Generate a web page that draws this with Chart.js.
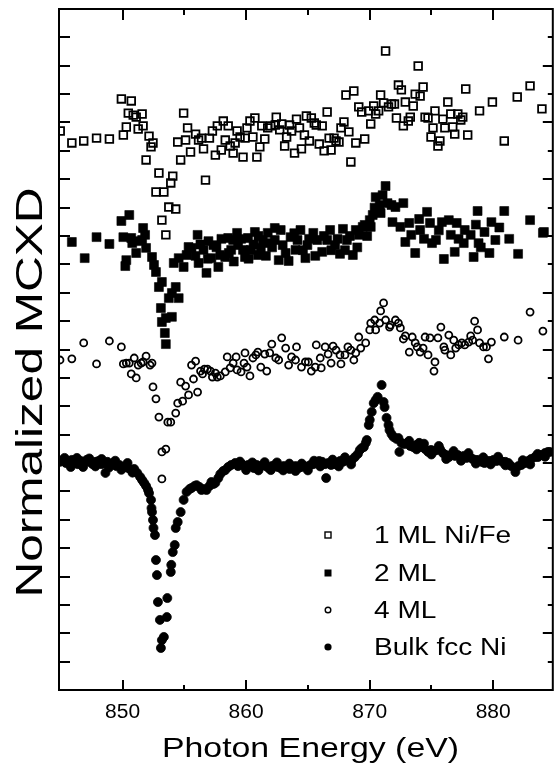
<!DOCTYPE html>
<html>
<head>
<meta charset="utf-8">
<script src="https://cdn.jsdelivr.net/npm/chart.js@4.4.0/dist/chart.umd.min.js"></script>
<style>
  html, body { margin: 0; padding: 0; background: #fff; overflow: hidden; }
  canvas { display: block; }
</style>
</head>
<body>
<canvas id="mcxd" width="560" height="765"></canvas>
<script>
// [photon energy (eV), normalized MCXD (offset, arb. units)]
const ml1 = [
  [844.95,19.70],[845.89,19.28],[846.85,19.35],[847.89,19.45],[848.93,19.42],[849.90,20.83],[850.70,20.76],[850.06,19.56],
  [850.30,19.84],[850.46,20.33],[850.86,20.26],[851.10,20.19],[851.58,20.30],[851.66,19.88],[851.26,19.77],[852.14,19.52],
  [852.46,19.28],[852.30,19.14],[851.90,18.68],[852.94,18.22],[852.70,17.55],[853.34,17.55],[854.06,18.11],[853.90,17.87],
  [853.74,17.02],[854.30,16.95],[853.18,16.56],[853.50,16.04],[854.70,18.68],[854.94,20.33],[854.46,19.31],[855.10,19.38],
  [855.26,19.81],[855.50,18.96],[855.91,19.59],[856.15,19.38],[856.39,19.45],[856.55,19.07],[856.71,17.97],[857.03,19.45],
  [857.27,19.70],[857.51,18.85],[857.67,19.88],[857.99,19.03],[858.15,20.05],[858.31,19.38],[858.55,19.88],[858.71,19.17],
  [858.95,18.92],[859.11,19.28],[859.27,19.70],[859.51,19.49],[859.75,18.78],[859.91,19.45],[860.07,19.81],[860.31,20.05],
  [860.55,19.49],[860.71,20.16],[860.87,18.78],[861.11,19.14],[861.27,19.88],[861.51,19.42],[861.75,19.81],[861.99,19.88],
  [862.44,20.19],[862.36,19.91],[862.88,19.95],[862.72,19.74],[863.28,19.49],[863.12,19.17],[863.52,19.91],[863.68,19.70],
  [863.92,18.92],[864.08,20.12],[864.32,19.81],[864.48,19.07],[864.72,19.56],[864.88,20.23],[865.12,19.35],[865.28,20.16],
  [865.52,19.98],[865.68,19.91],[865.92,19.24],[866.16,19.88],[866.32,19.00],[866.56,20.37],[866.72,19.45],[866.88,19.03],
  [867.12,19.45],[867.28,19.35],[867.52,19.31],[867.68,19.81],[867.92,20.02],[868.08,20.97],[868.32,19.67],[868.48,18.61],
  [868.72,21.11],[868.88,19.28],[869.12,20.55],[869.36,20.37],[869.60,19.42],[869.93,20.41],[870.09,19.95],[870.33,20.58],
  [870.49,20.30],[870.73,20.41],[870.89,20.97],[871.13,20.69],[871.29,22.52],[871.53,20.55],[871.77,20.65],[872.01,20.65],
  [872.17,20.16],[872.33,21.32],[872.57,21.15],[872.73,19.88],[872.89,20.72],[873.13,20.05],[873.29,20.19],[873.53,20.58],
  [873.69,21.00],[873.93,21.99],[874.09,20.93],[874.33,21.25],[874.49,20.19],[874.73,20.16],[874.97,19.49],[875.13,19.81],
  [875.29,20.41],[875.53,19.17],[875.69,19.35],[875.93,20.12],[876.09,19.81],[876.33,20.72],[876.57,20.30],[876.73,19.84],
  [876.89,19.59],[877.14,20.30],[877.38,20.09],[877.54,20.19],[877.78,21.18],[877.94,19.56],[878.90,20.41],[879.94,20.72],
  [880.90,19.35],[881.95,20.90],[882.99,21.29],[883.95,20.48]
];

const ml2 = [
  [849.90,16.53],[850.54,16.74],[845.89,15.79],[847.89,15.96],[848.93,15.72],[850.06,15.96],[850.70,15.93],[851.66,16.28],
  [851.82,16.04],[851.18,15.82],[856.07,16.04],[855.34,15.61],[856.95,15.82],[858.55,15.93],[859.27,16.11],[860.71,16.14],
  [861.75,16.11],[862.32,16.28],[846.93,15.22],[850.30,15.15],[850.22,14.94],[850.78,15.75],[851.10,15.40],[851.58,15.86],
  [851.90,15.58],[852.38,15.26],[852.54,14.98],[852.70,14.73],[852.94,14.20],[853.18,14.38],[853.10,13.46],[853.18,12.97],
  [853.50,13.11],[853.74,13.81],[853.99,13.99],[854.30,14.20],[854.54,13.81],[853.99,13.15],[853.42,12.58],[853.50,12.19],
  [854.14,15.05],[854.54,15.22],[854.94,14.91],[855.18,15.33],[855.58,15.58],[856.15,15.05],[856.79,14.70],[857.19,15.22],
  [857.75,14.91],[858.31,15.26],[858.79,15.51],[859.35,15.68],[859.91,15.26],[860.39,15.51],[861.19,15.58],[861.75,15.75],
  [862.32,15.86],[856.55,15.51],[857.35,15.68],[857.91,15.33],[858.95,15.86],[859.75,15.51],[860.15,15.93],[860.95,15.33],
  [861.35,15.86],[862.96,15.68],[864.00,15.51],[864.16,15.86],[864.96,15.68],[865.76,15.86],[866.16,15.44],[866.56,15.86],
  [867.20,15.68],[868.16,15.86],[869.12,16.04],[869.60,16.39],[870.25,16.74],[871.05,17.44],[871.77,17.09],[862.80,16.21],
  [863.60,15.96],[864.40,16.21],[865.44,16.11],[866.80,16.21],[867.84,16.25],[868.88,16.21],[869.44,16.32],[862.64,15.15],
  [863.44,15.12],[864.80,15.22],[867.60,15.37],[868.64,15.33],[871.29,17.76],[870.49,17.37],[870.81,17.09],[871.45,17.16],
  [872.09,17.02],[872.73,17.16],[870.89,16.81],[870.01,16.56],[870.09,16.32],[871.85,16.49],[872.49,16.32],[873.21,16.46],
  [874.01,16.60],[874.65,16.85],[874.09,16.21],[874.89,16.46],[875.85,16.49],[876.41,16.56],[877.05,16.46],[877.70,16.21],
  [878.74,16.88],[879.30,16.14],[879.86,16.49],[880.90,16.88],[882.99,16.56],[884.03,16.11],[873.69,15.40],[876.01,15.19],
  [876.89,15.44],[878.42,15.26],[879.70,15.40],[882.02,15.37],[875.05,15.75],[872.89,15.79],[877.62,15.75],[878.82,15.75],
  [884.11,16.14],[873.37,16.04],[875.37,15.86],[876.57,16.04],[878.18,16.04],[880.18,15.86],
  [855.90,15.30],[856.30,15.70],[856.90,15.20],[857.60,15.60],[858.00,15.90],[858.60,15.40],[859.00,15.10],[859.60,15.90],
  [860.20,15.20],[860.60,15.70],[861.00,16.00],[861.60,15.30],[862.10,15.60],[863.20,15.40],[863.90,16.10],[864.60,15.50],
  [865.10,15.90],[865.60,15.30],[866.30,16.00],[866.90,15.50],[867.40,15.90],[868.00,15.50],[868.40,16.00],[869.00,15.60],
  [869.80,16.00],[870.40,17.00],[874.40,15.90],[875.60,16.20],[877.20,15.90],[878.60,16.40],[879.00,15.60],[880.50,16.30],
  [881.30,15.90]
];

const ml4 = [
  [844.93,11.63],[845.89,11.67],[846.85,12.23],[847.89,11.49],[848.93,12.30],[849.90,12.09],[850.06,11.49],[850.30,11.52],
  [850.54,11.52],[850.70,11.14],[850.94,11.70],[851.10,11.00],[851.26,11.45],[851.50,11.52],[851.90,11.77],[851.66,11.56],
  [852.22,11.45],[852.38,11.52],[852.46,10.68],[852.70,10.26],[852.94,9.62],[853.66,9.44],[853.90,9.44],[854.30,9.76],
  [853.18,8.39],[853.50,8.49],[853.18,7.44],[854.46,10.11],[854.86,10.18],[854.70,10.85],[855.10,10.71],[855.34,10.40],
  [855.58,11.45],[855.74,10.96],[855.91,11.59],[856.07,10.50],[856.31,11.24],[856.47,11.14],[856.63,11.31],[856.87,11.31],
  [857.11,11.24],[857.27,11.03],[857.51,11.17],[857.67,11.03],[857.91,11.07],[858.31,11.21],[858.47,11.74],[858.71,11.35],
  [858.95,11.52],[859.19,11.74],[859.27,11.28],[859.59,11.21],[859.83,11.52],[859.91,11.88],[860.07,11.38],[860.31,11.07],
  [860.55,11.70],[860.79,11.81],[860.95,11.91],[861.19,11.38],[861.51,11.84],[861.67,11.24],[861.91,11.88],[862.08,12.19],
  [862.40,11.70],[862.64,11.63],[862.88,12.41],[863.20,12.05],[863.44,11.45],[863.68,11.74],[864.08,12.09],[864.00,11.63],
  [864.48,11.38],[864.80,11.56],[865.04,11.56],[865.28,11.24],[865.60,11.38],[865.68,12.16],[866.00,11.70],[866.08,11.35],
  [866.40,12.09],[866.64,11.84],[866.88,11.52],[867.04,12.12],[867.28,11.98],[867.60,11.81],[867.68,11.49],[868.00,11.81],
  [868.24,12.09],[868.48,11.98],[868.72,11.63],[868.88,11.88],[869.12,12.44],[869.28,12.05],[869.68,12.23],[870.01,12.69],
  [870.09,12.93],[870.41,13.04],[870.49,12.69],[870.81,12.93],[870.89,13.36],[871.13,13.64],[871.29,13.04],[871.61,12.79],
  [871.69,12.86],[872.09,13.04],[872.33,12.93],[872.49,12.76],[872.73,12.37],[872.89,12.48],[873.21,11.91],[873.45,12.44],
  [873.69,12.23],[873.85,12.09],[874.09,11.91],[874.33,12.05],[874.49,12.44],[874.73,11.81],[874.89,12.41],[875.21,11.24],
  [875.29,11.56],[875.53,12.41],[875.77,12.79],[876.01,12.09],[876.09,11.98],[876.41,12.51],[876.57,11.81],[876.81,12.33],
  [876.97,12.05],[877.22,12.16],[877.46,12.23],[877.70,12.16],[878.02,12.26],[878.18,12.48],[878.34,12.33],[878.50,13.00],
  [878.74,12.69],[878.90,12.23],[879.22,12.09],[879.46,12.09],[879.62,11.67],[879.86,12.26],[880.90,12.44],[882.02,12.33],
  [882.99,13.32],[884.03,12.65]
];

const bulk = [
  [844.93,8.04],[845.17,8.11],[845.41,8.00],[845.65,8.07],[845.89,8.11],[846.13,8.04],[846.37,7.96],[846.61,8.07],
  [846.85,8.00],[847.09,8.11],[847.33,8.04],[847.57,7.96],[847.81,8.04],[848.05,8.07],[848.29,7.96],[848.53,8.00],
  [848.61,7.65],[848.77,8.04],[849.01,7.93],[849.25,8.00],[849.50,7.89],[849.74,7.93],[849.98,7.86],[850.22,7.89],
  [850.46,7.82],[850.70,7.75],[850.94,7.79],[851.18,7.65],[851.42,7.51],[851.58,7.40],[851.74,7.30],[851.90,7.19],
  [852.06,7.05],[852.14,6.94],[852.30,6.70],[852.34,6.41],[852.38,6.27],[852.46,5.99],[852.50,5.71],[852.62,5.46],
  [852.70,4.58],[852.78,4.05],[852.86,3.10],[853.02,2.47],[853.10,1.48],[853.18,1.76],[853.34,1.87],[853.58,2.57],
  [853.62,3.24],[853.90,4.16],[853.94,4.41],[854.06,4.86],[854.22,5.11],[854.30,5.71],[854.46,5.92],[854.70,6.27],
  [854.94,6.70],[855.18,6.98],[855.42,7.08],[855.58,7.12],[855.83,7.19],[855.99,7.22],[856.23,7.15],[856.39,7.05],
  [856.63,7.08],[856.79,7.05],[857.03,7.19],[857.19,7.33],[857.35,7.26],[857.51,7.30],[857.75,7.47],[857.91,7.61],
  [858.15,7.72],[858.31,7.75],[858.55,7.86],[858.79,7.93],[859.11,8.00],[859.35,7.89],[859.67,7.96],[859.91,7.86],
  [860.15,7.93],[860.39,7.89],[860.63,7.82],[860.87,7.93],[861.11,7.86],[861.35,7.93],[861.59,7.89],[861.83,7.82],
  [862.08,7.89],[862.32,7.93],[862.56,7.86],[862.80,7.82],[863.04,7.89],[863.28,7.86],[863.52,7.79],[863.76,7.86],
  [864.00,7.89],[864.24,7.82],[864.48,7.86],[864.72,7.89],[864.96,7.86],[865.20,7.93],[865.44,7.96],[865.68,8.00],
  [865.92,8.07],[866.16,8.04],[866.40,7.96],[866.48,7.47],[866.64,8.00],[866.88,7.93],[867.12,7.96],[867.36,8.00],
  [867.60,8.07],[867.84,8.04],[868.08,8.11],[868.32,8.07],[868.57,8.11],[868.81,8.21],[869.05,8.32],[869.21,8.46],
  [869.37,8.53],[869.53,8.56],[869.69,8.71],[869.77,8.81],[869.93,9.34],[870.01,9.52],[870.17,9.80],[870.33,10.11],
  [870.49,10.22],[870.65,10.33],[870.97,10.75],[871.13,10.15],[871.21,9.97],[871.37,9.59],[871.53,9.34],[871.61,9.16],
  [871.77,9.02],[871.93,8.92],[872.17,8.85],[872.33,8.88],[872.41,8.39],[872.57,8.71],[872.81,8.67],[873.05,8.71],
  [873.29,8.60],[873.53,8.56],[873.77,8.63],[874.01,8.71],[874.26,8.56],[874.50,8.49],[874.74,8.39],[874.98,8.46],
  [875.22,8.42],[875.46,8.46],[875.70,8.49],[875.94,8.35],[876.18,8.28],[876.42,8.21],[876.66,8.32],[876.90,8.25],
  [877.14,8.28],[877.38,8.21],[877.62,8.25],[877.86,8.18],[878.10,8.21],[878.34,8.14],[878.58,8.11],[878.82,8.11],
  [879.06,8.04],[879.30,8.00],[879.54,8.07],[879.78,8.07],[880.02,8.11],[880.27,8.07],[880.51,8.11],[880.75,8.04],
  [880.99,8.04],[881.23,8.00],[881.47,7.89],[881.80,7.68],[882.04,7.89],[882.28,7.93],[882.59,8.00],[882.83,8.07],
  [883.07,8.14],[883.39,8.21],[883.63,8.21],[883.87,8.28],[884.19,8.35],[884.43,8.39],[884.59,8.39],
  [845.30,8.18],[845.80,7.86],[846.30,8.18],[846.80,7.86],[847.30,8.16],[847.80,7.88],[848.30,8.14],[848.90,7.84],
  [849.40,8.08],[849.90,7.76],[850.40,8.00],[850.80,7.66],[859.50,8.05],[860.00,7.75],[860.50,8.02],[861.00,7.74],
  [861.50,8.03],[862.00,7.75],[862.50,8.02],[863.00,7.74],[863.50,7.98],[864.00,7.72],[864.50,7.98],[865.00,7.74],
  [865.50,8.08],[866.00,7.88],[867.00,8.12],[867.50,7.88],[868.00,8.20],[868.50,7.95],[873.20,8.78],[873.80,8.48],
  [874.40,8.68],[875.00,8.30],[875.60,8.60],[876.20,8.14],[876.80,8.42],[877.40,8.08],[878.00,8.35],[878.60,7.98],
  [879.20,8.20],[879.80,7.95],[880.40,8.22],[881.00,7.92],[882.40,8.10],[883.00,7.95],[883.60,8.32],[884.20,8.22]
];

const seriesLabels = ['1 ML Ni/Fe', '2 ML', '4 ML', 'Bulk fcc Ni'];
const xMajorTicks = [850, 860, 870, 880];
const xMinorTicks = [855, 865, 875];

const FONT = "'Liberation Sans', Arial, Helvetica, sans-serif";
Chart.defaults.font.family = FONT;
Chart.defaults.color = '#000';

const toPts = arr => arr.map(p => ({ x: p[0], y: p[1] }));

function stretchText(ctx, text, cx, cy, width, rot) {
  ctx.save();
  ctx.translate(cx, cy);
  if (rot) ctx.rotate(rot);
  const w = ctx.measureText(text).width;
  ctx.scale(width / w, 1);
  ctx.fillText(text, 0, 0);
  ctx.restore();
}

// frame, inward ticks, tick labels, stretched axis titles and the legend
const decorations = {
  id: 'decorations',
  afterDatasetsDraw(chart) {
    const { ctx, chartArea: a, scales: { x, y } } = chart;
    ctx.save();
    ctx.strokeStyle = '#000';
    ctx.lineWidth = 2;
    ctx.strokeRect(a.left, a.top, a.right - a.left, a.bottom - a.top);

    ctx.beginPath();
    xMajorTicks.concat(xMinorTicks).forEach(v => {
      const px = Math.round(x.getPixelForValue(v));
      const major = xMajorTicks.includes(v);
      ctx.moveTo(px, a.top); ctx.lineTo(px, a.top + (major ? 11 : 6));
      ctx.moveTo(px, a.bottom); ctx.lineTo(px, a.bottom - (major ? 10 : 5));
    });
    for (let v = 1; v < 24; v++) {
      const py = Math.round(y.getPixelForValue(v));
      ctx.moveTo(a.left, py); ctx.lineTo(a.left + 11, py);
      ctx.moveTo(a.right, py); ctx.lineTo(a.right - (v % 2 === 0 ? 10 : 5), py);
    }
    ctx.stroke();

    ctx.fillStyle = '#000';
    ctx.textAlign = 'center';
    ctx.textBaseline = 'alphabetic';

    // x tick labels
    ctx.font = '20px ' + FONT;
    xMajorTicks.forEach(v => {
      stretchText(ctx, String(v), x.getPixelForValue(v), 718, 35, 0);
    });

    ctx.font = '28px ' + FONT;
    stretchText(ctx, 'Photon Energy (eV)', 310.5, 757, 297, 0);
    ctx.font = '37px ' + FONT;
    stretchText(ctx, 'Normalized MCXD', 42, 392.5, 410, -Math.PI / 2);

    // legend
    const rowY = [535, 573, 610, 647];
    ctx.textAlign = 'left';
    ctx.font = '23px ' + FONT;
    chart.data.datasets.forEach((ds, i) => {
      const cy = rowY[i], cx = 328;
      ctx.lineWidth = 1.4;
      ctx.beginPath();
      if (i === 0) { ctx.strokeRect(cx - 3, cy - 3, 6, 6); }
      else if (i === 1) { ctx.fillRect(cx - 3.5, cy - 3.5, 7, 7); }
      else if (i === 2) { ctx.arc(cx, cy, 2.8, 0, Math.PI * 2); ctx.stroke(); }
      else { ctx.arc(cx, cy, 3.6, 0, Math.PI * 2); ctx.fill(); }
      ctx.save();
      ctx.translate(374, cy + 8.3);
      ctx.scale(1.22, 1);
      ctx.fillText(ds.label, 0, 0);
      ctx.restore();
    });
    ctx.restore();
  }
};

new Chart(document.getElementById('mcxd'), {
  type: 'scatter',
  data: {
    datasets: [
      { label: seriesLabels[0], data: toPts(ml1), pointStyle: 'rect', pointRadius: 5.4,
        borderColor: '#000', backgroundColor: 'rgba(0,0,0,0)', borderWidth: 1.8 },
      { label: seriesLabels[1], data: toPts(ml2), pointStyle: 'rect', pointRadius: 6.3,
        borderColor: '#000', backgroundColor: '#000', borderWidth: 0.6 },
      { label: seriesLabels[2], data: toPts(ml4), pointStyle: 'circle', pointRadius: 3.5,
        borderColor: '#000', backgroundColor: 'rgba(0,0,0,0)', borderWidth: 1.8 },
      { label: seriesLabels[3], data: toPts(bulk), pointStyle: 'circle', pointRadius: 4.5,
        borderColor: '#000', backgroundColor: '#000', borderWidth: 0.8 }
    ]
  },
  options: {
    responsive: false,
    animation: false,
    devicePixelRatio: 1,
    layout: { padding: { left: 59, top: 9, right: 2, bottom: 0 } },
    plugins: { legend: { display: false }, tooltip: { enabled: false } },
    scales: {
      x: {
        type: 'linear',
        min: 844.85,
        max: 884.83,
        grid: { display: false, drawTicks: false },
        border: { display: false },
        ticks: { display: false },
        afterFit: s => { s.height = 75; }
      },
      y: {
        display: false,
        min: 0,
        max: 24
      }
    }
  },
  plugins: [decorations]
});
</script>
</body>
</html>
